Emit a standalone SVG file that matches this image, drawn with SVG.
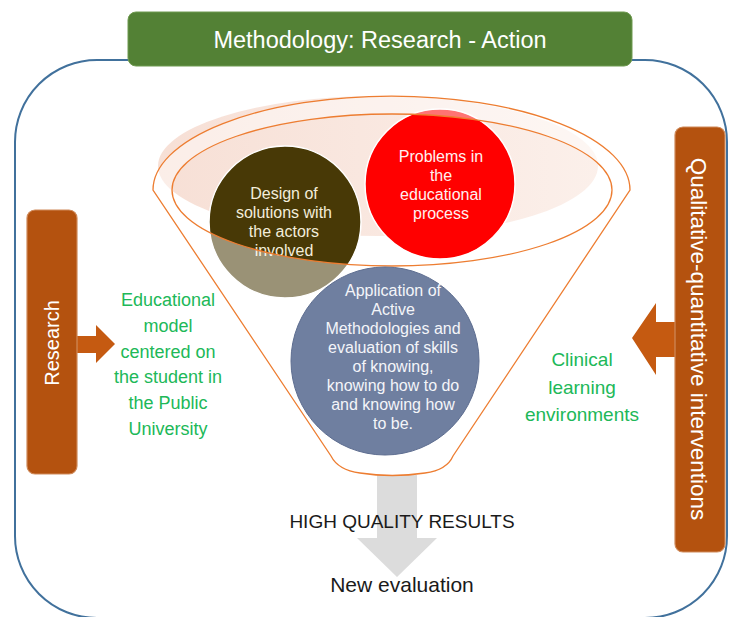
<svg xmlns="http://www.w3.org/2000/svg" width="729" height="617" viewBox="0 0 729 617">
<defs>
<style>
.frame{fill:#ffffff;stroke:#41719c;stroke-width:2}
.side{fill:#b4520f;stroke:#cf8a5a;stroke-width:1.2}
.sidetxt{font-family:"Liberation Sans",Arial,sans-serif;fill:#ffffff;text-anchor:middle}
.ctxt{font-family:"Liberation Sans",Arial,sans-serif;font-size:16px;text-anchor:middle}
.green{font-family:"Liberation Sans",Arial,sans-serif;fill:#20b858;text-anchor:middle}
.dark{font-family:"Liberation Sans",Arial,sans-serif;fill:#1a1a1a;text-anchor:middle}
.barrow{fill:#c55a11}
</style>
<linearGradient id="peach" x1="0" y1="0" x2="1" y2="0">
<stop offset="0" stop-color="#f6dcd1"/>
<stop offset="1" stop-color="#fbeee8"/>
</linearGradient>
</defs>
<rect width="729" height="617" fill="#ffffff"/>
<g id="frame">
<rect class="frame" x="15" y="60" width="712" height="558" rx="82" ry="82"/>
</g>
<g id="title">
<rect x="128" y="12" width="504" height="54" rx="8" fill="#538135" stroke="#6f9a50" stroke-width="1"/>
<text x="380" y="48" font-family="'Liberation Sans',Arial,sans-serif" font-size="23.5" fill="#ffffff" text-anchor="middle">Methodology: Research - Action</text>
</g>
<g id="connectors">
<path class="barrow" d="M66,336 H96 V325 L115,344 L96,363 V353 H66 Z"/>
<path class="barrow" d="M680,322 H656 V303 L632,338 L656,375 V357 H680 Z"/>
<path d="M377,475 H417 V538 H437 L397,577 L357,538 H377 Z" fill="#dcdcdc"/>
</g>
<g id="research">
<rect class="side" x="27" y="210" width="50" height="264" rx="8"/>
<text class="sidetxt" font-size="20" transform="translate(52,343) rotate(-90)" x="0" y="7">Research</text>
</g>
<g id="interventions">
<rect class="side" x="675" y="127" width="50" height="425" rx="8"/>
<text class="sidetxt" font-size="22.5" transform="translate(698,339) rotate(90)" x="0" y="7.5">Qualitative-quantitative interventions</text>
</g>
<g id="educational-model">
<text class="green" font-size="18"><tspan x="168" y="306">Educational</tspan><tspan x="168" y="332">model</tspan><tspan x="168" y="358">centered on</tspan><tspan x="168" y="383">the student in</tspan><tspan x="168" y="409">the Public</tspan><tspan x="168" y="435">University</tspan></text>
</g>
<g id="clinical">
<text class="green" font-size="19"><tspan x="582" y="366">Clinical</tspan><tspan x="582" y="394">learning</tspan><tspan x="582" y="421">environments</tspan></text>
</g>
<g id="funnel-back">
<ellipse cx="378" cy="166" rx="220" ry="70" fill="url(#peach)" opacity="0.9"/>
</g>
<g id="design">
<circle cx="285" cy="222" r="76" fill="#483906" stroke="#ffffff" stroke-width="1.5"/>
<text class="ctxt" fill="#f3eddb"><tspan x="284" y="199">Design of</tspan><tspan x="284" y="218">solutions with</tspan><tspan x="284" y="237">the actors</tspan><tspan x="284" y="256">involved</tspan></text>
</g>
<g id="problems">
<circle cx="440" cy="184" r="75" fill="#ff0000" stroke="#ffffff" stroke-width="1.5"/>
<text class="ctxt" fill="#fff0f0"><tspan x="441" y="162">Problems in</tspan><tspan x="441" y="181">the</tspan><tspan x="441" y="200">educational</tspan><tspan x="441" y="219">process</tspan></text>
</g>
<g id="funnel">
<path d="M153,190 A238.5,94 0 0 1 630,190 L453,456 Q447,470 425,473 Q392,478 360,473 Q338,470 331,456 Z M172,190 A220,76 0 1 0 612,190 A220,76 0 1 0 172,190 Z" fill="#ffffff" fill-opacity="0.45" fill-rule="evenodd" stroke="#ed7d31" stroke-width="1.3"/>
</g>
<g id="application">
<circle cx="385" cy="361" r="94" fill="#6f7fa0" stroke="#5d6d90" stroke-width="1"/>
<text class="ctxt" fill="#f4f5f9"><tspan x="393" y="296">Application of</tspan><tspan x="393" y="315">Active</tspan><tspan x="393" y="334">Methodologies and</tspan><tspan x="393" y="353">evaluation of skills</tspan><tspan x="393" y="372">of knowing,</tspan><tspan x="393" y="391">knowing how to do</tspan><tspan x="393" y="410">and knowing how</tspan><tspan x="393" y="429">to be.</tspan></text>
</g>
<g id="results">
<text class="dark" x="402" y="528" font-size="19">HIGH QUALITY RESULTS</text>
</g>
<g id="new-evaluation">
<text class="dark" x="402" y="592" font-size="21">New evaluation</text>
</g>
</svg>
